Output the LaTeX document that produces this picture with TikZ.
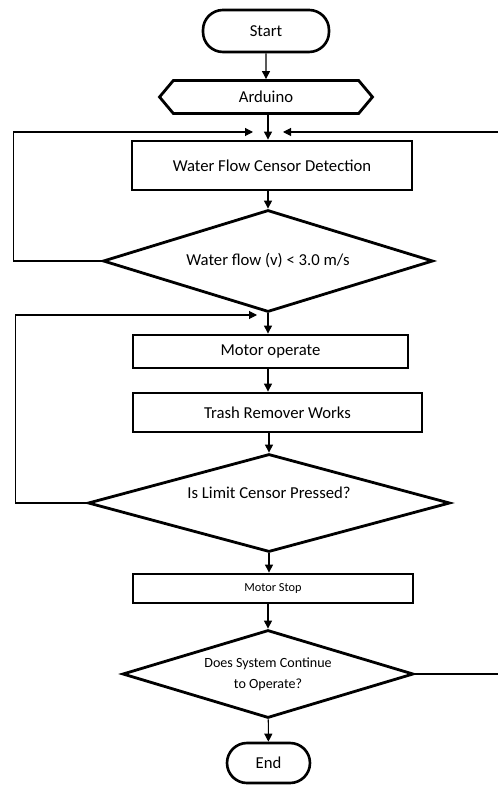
\documentclass[tikz,border=0pt]{standalone}
\usepackage{fontspec}
\setmainfont{Carlito}
\usetikzlibrary{
	arrows.meta,
	calc,
	positioning,
	shapes.geometric,
	shapes.symbols
}

\begin{document}
\begin{tikzpicture}[
	x=0.02cm, y=-0.02cm,
	>={Triangle[length=1.6mm,width=1.6mm]},
	terminal/.style={
		draw, line width=1.5pt, rounded corners=0.4cm,
		minimum width=2.52cm, minimum height=0.84cm, align=center,
		font=\fontsize{9.5}{11}\selectfont
	},
	io/.style={
		signal, signal to=west and east, signal pointer angle=100,
		draw, line width=1.6pt, minimum width=4.26cm, minimum height=0.66cm,
		inner sep=0pt, font=\fontsize{9.5}{11}\selectfont
	},
	block/.style={
		draw, line width=1.6pt, inner sep=0pt, align=center,
		font=\fontsize{9.5}{11}\selectfont
	},
	decision/.style={
		diamond, draw, line width=1.6pt, inner sep=0pt, align=center,
		font=\fontsize{9.5}{11}\selectfont
	},
	arrow/.style={->, line width=0.6pt},
	loopline/.style={->, line width=0.6pt}
	]
	
	\useasboundingbox (0,0) rectangle (497,786);
	
	% Terminals and input
	\node[terminal] (start) at (266,31) {Start};
	\node[io] (arduino) at (266,97) {Arduino};
	
	% Main steps
	\node[block, minimum width=5.6cm, minimum height=0.98cm] (detect) at (272,165.5) {Water Flow Censor Detection};
	\node[decision, aspect=3.24, minimum width=6.6cm, minimum height=2.04cm] (flow) at (268,261) {Water flow (v) < 3.0 m/s};
	\node[block, minimum width=5.5cm, minimum height=0.66cm] (motor) at (270.5,351.5) {Motor operate};
	\node[block, minimum width=5.78cm, minimum height=0.78cm] (trash) at (277.5,412.5) {Trash Remover Works};
	\node[decision, aspect=3.69, minimum width=7.24cm, minimum height=1.96cm, text depth=0.4cm] (limit) at (269,503) {Is Limit Censor Pressed?};
	\node[block, minimum width=5.6cm, minimum height=0.58cm, font=\fontsize{7}{8}\selectfont] (stop) at (273,588.5) {Motor Stop};
	\node[decision, aspect=3.31, minimum width=5.82cm, minimum height=1.76cm, font=\fontsize{8}{12}\selectfont] (cont) at (268,674) {Does System Continue\\to Operate?};
	\node[terminal, minimum width=1.66cm, minimum height=0.8cm] (end) at (268.5,763) {End};
	
	% Ends of the feedback lines
	\coordinate (inL) at (253,132);
	\coordinate (inR) at (283,132);
	\coordinate (inM) at (257,315);
	
	% --- Main flow ---
	\draw[arrow] (start) -- (arduino);
	\draw[arrow] (arduino.south -| flow) -- (flow |- detect.north);
	\draw[arrow] (detect.south -| flow) -- (flow.north);
	\draw[arrow] (flow) -- (flow |- motor.north);
	\draw[arrow] (motor.south -| flow) -- (flow |- trash.north);
	\draw[arrow] (trash.south -| limit) -- (limit.north);
	\draw[arrow] (limit) -- (limit |- stop.north);
	\draw[arrow] (stop.south -| cont) -- (cont.north);
	\draw[arrow] (cont) -- (end);
	
	% --- Feedback lines ---
	\draw[loopline] (flow.west) -- ++(-88,0) |- (inL);
	\draw[loopline] (limit.west) -- ++(-71,0) |- (inM);
	\draw[loopline] (cont.east) -- ++(92,0) |- (inR);
\end{tikzpicture}
\end{document}
